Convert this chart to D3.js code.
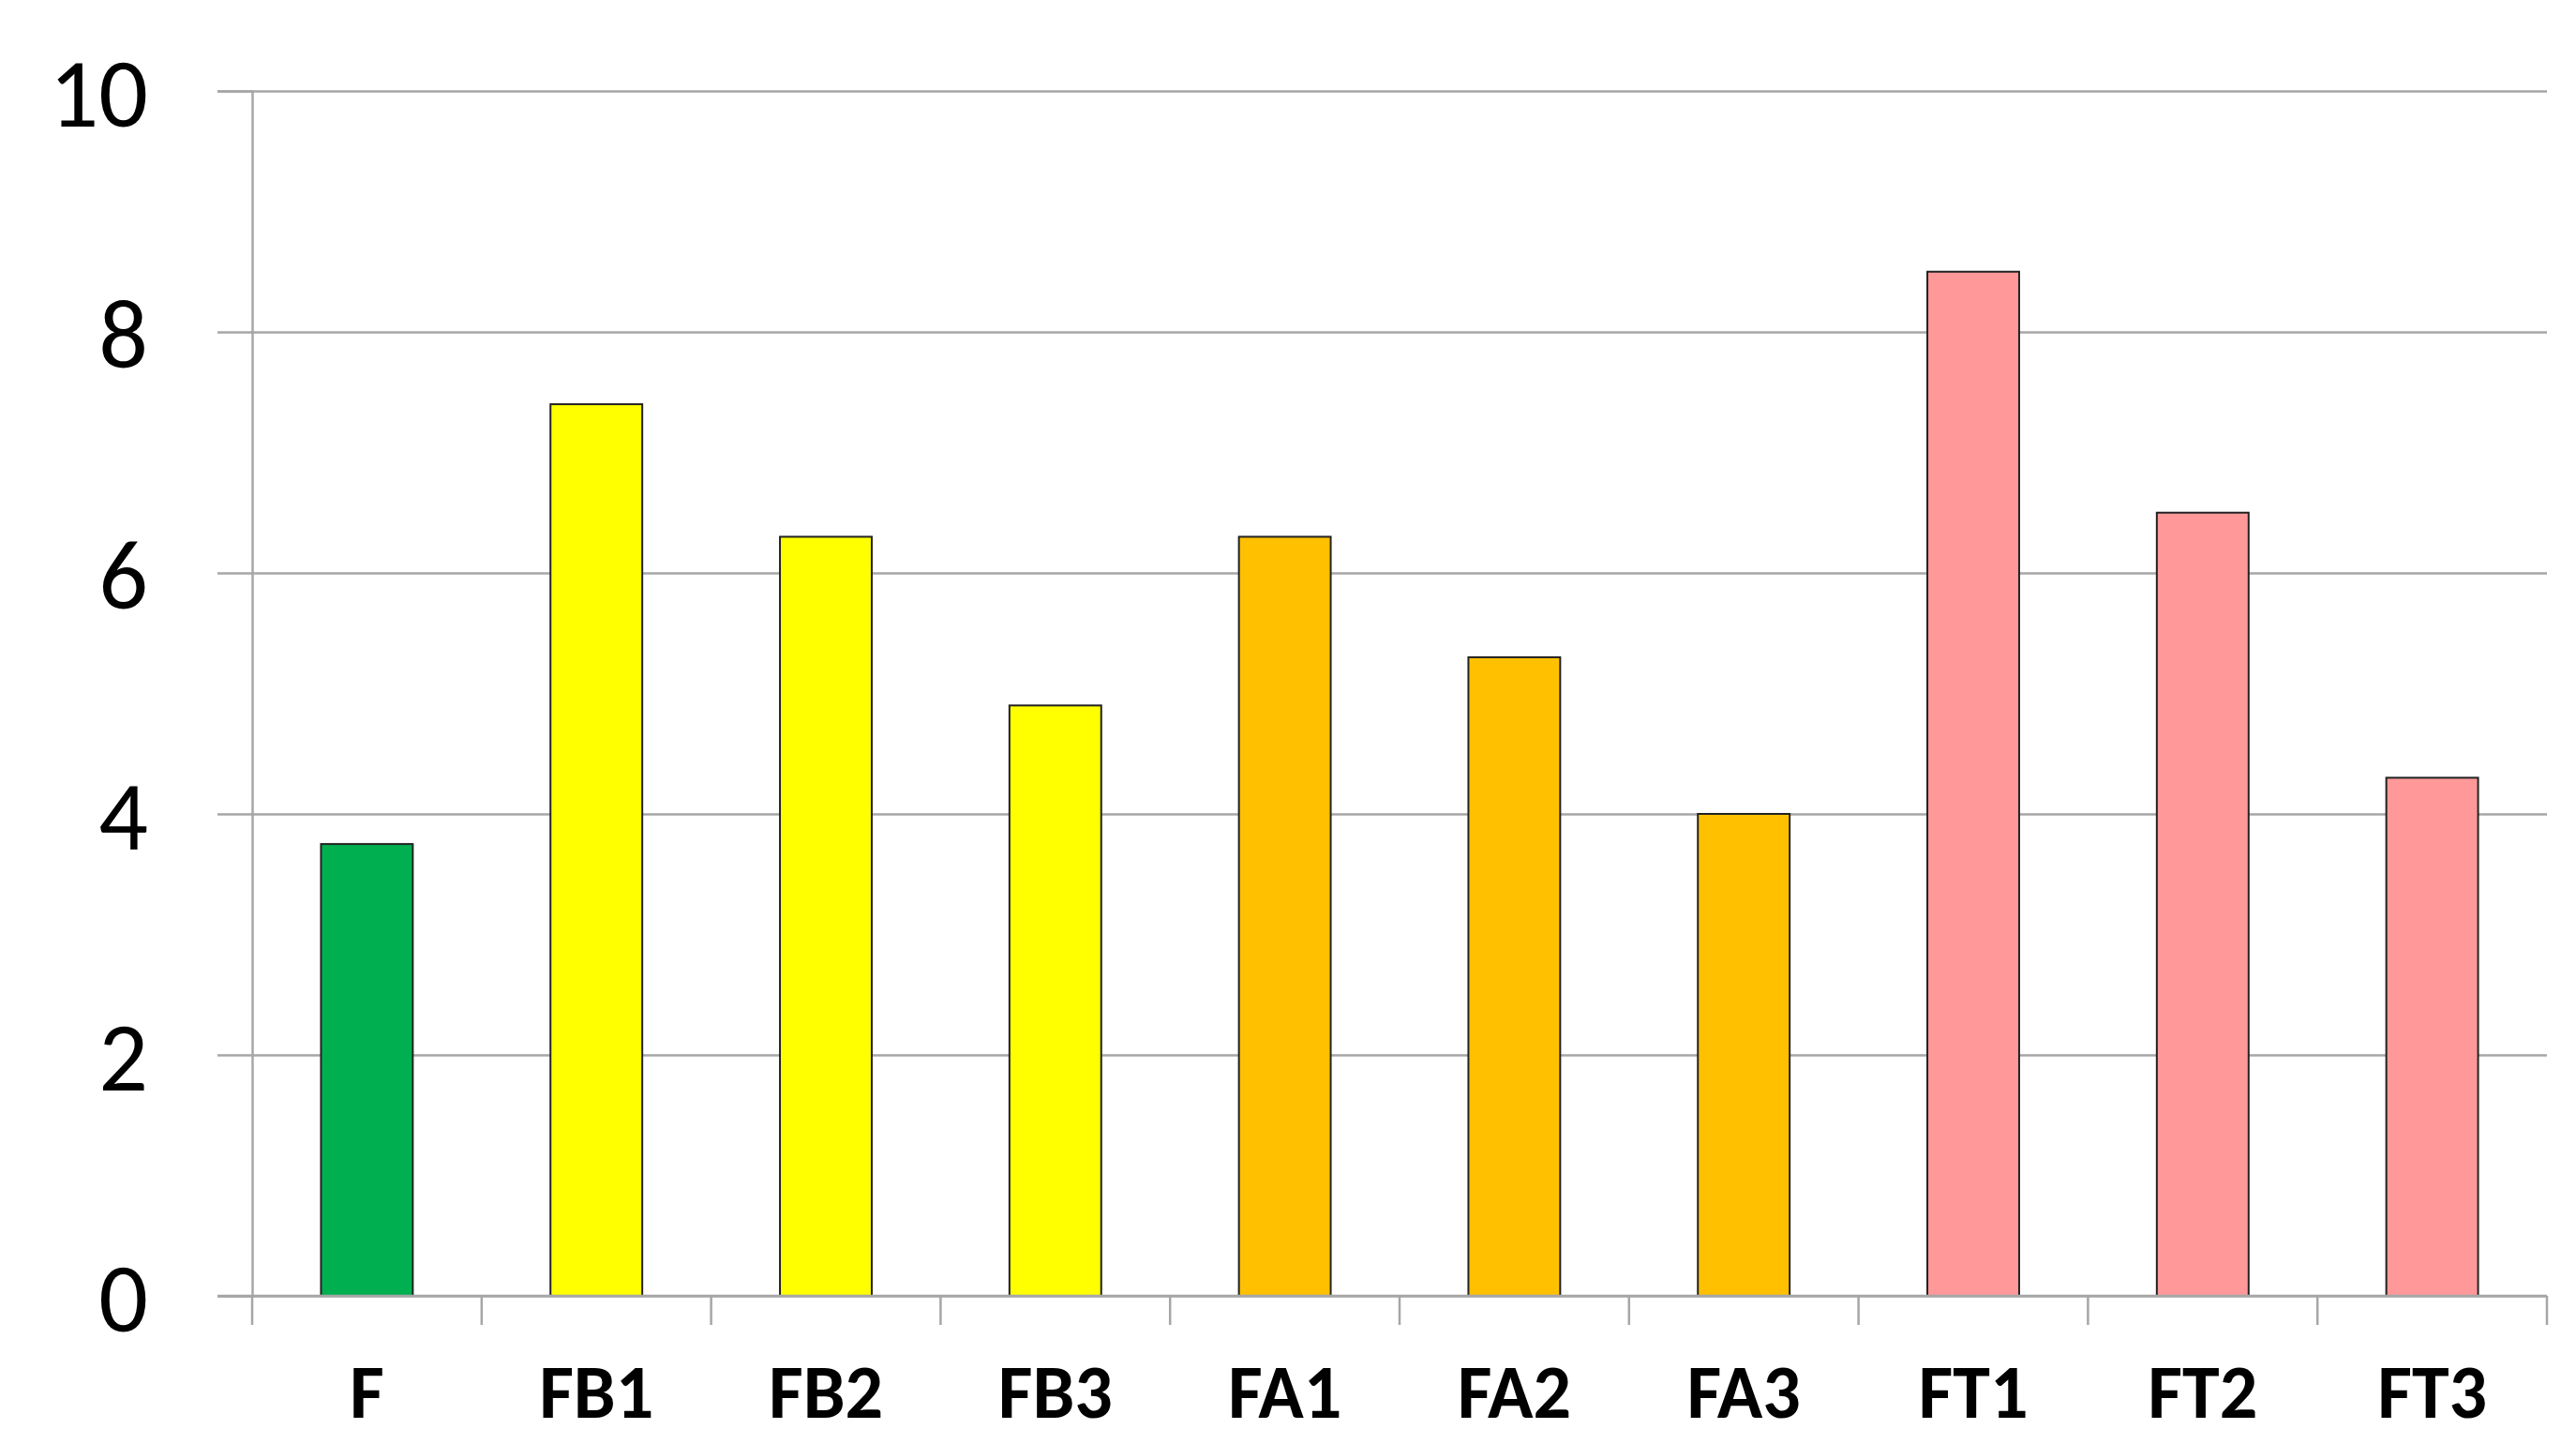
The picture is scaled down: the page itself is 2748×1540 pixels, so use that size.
<!DOCTYPE html>
<html>
<head>
<meta charset="utf-8">
<script src="https://cdn.jsdelivr.net/npm/d3@7"></script>
<style>
  html, body { margin: 0; padding: 0; background: #fff; }
  svg text { font-family: Carlito, Calibri, Lato, sans-serif; }
</style>
</head>
<body>
<div id="chart"></div>
<script>
// data
const categories = ["F", "FB1", "FB2", "FB3", "FA1", "FA2", "FA3", "FT1", "FT2", "FT3"];
const values = [3.75, 7.4, 6.3, 4.9, 6.3, 5.3, 4.0, 8.5, 6.5, 4.3];
const barColors = ["#00B050", "#FFFF00", "#FFFF00", "#FFFF00", "#FFC000", "#FFC000", "#FFC000", "#FF9999", "#FF9999", "#FF9999"];
const yTicks = [0, 2, 4, 6, 8, 10];

const width = 2748;
const height = 1540;
const margin = {top: 97, right: 31, bottom: 158, left: 269};

const data = categories.map((c, i) => ({label: c, value: values[i], color: barColors[i]}));

// x scale - bars take 40% of each slot
const x = d3.scaleBand()
  .domain(categories)
  .range([margin.left, width - margin.right])
  .paddingInner(0.6)
  .paddingOuter(0.3);

const y = d3.scaleLinear()
  .domain([0, 10])
  .range([height - margin.bottom, margin.top]);

const svg = d3.select("#chart")
  .append("svg")
  .attr("width", width)
  .attr("height", height);

// gridlines + y labels
const yAxis = g => g
  .attr("transform", `translate(${margin.left},0)`)
  .call(d3.axisLeft(y).tickValues(yTicks).tickSize(37).tickPadding(74))
  .call(g => g.select(".domain").attr("stroke", "#a6a6a6").attr("stroke-width", 2.5))
  .call(g => g.selectAll(".tick line").clone()
    .attr("x1", 0)
    .attr("x2", width - margin.left - margin.right)
    .attr("stroke", "#a6a6a6")
    .attr("stroke-width", 2.5))
  .call(g => g.selectAll(".tick line").attr("stroke", "#a6a6a6").attr("stroke-width", 2.5))
  .call(g => g.selectAll(".tick text")
    .attr("font-size", 104)
    .attr("fill", "#000")
    .attr("dy", "0.36em"));

svg.append("g").call(yAxis);

// bars
svg.append("g")
  .selectAll("rect")
  .data(data)
  .join("rect")
  .attr("x", d => x(d.label))
  .attr("y", d => y(d.value))
  .attr("width", x.bandwidth())
  .attr("height", d => y(0) - y(d.value))
  .attr("fill", d => d.color)
  .attr("stroke", "#222")
  .attr("stroke-width", 2);

// x axis line and separator ticks between categories
const step = x.step();
const bounds = d3.range(categories.length + 1).map(i => margin.left + i * step);
const xg = svg.append("g");
xg.append("line")
  .attr("x1", margin.left - 37)
  .attr("x2", width - margin.right)
  .attr("y1", y(0))
  .attr("y2", y(0))
  .attr("stroke", "#a6a6a6")
  .attr("stroke-width", 2.5);
xg.selectAll("line.sep")
  .data(bounds)
  .join("line")
  .attr("class", "sep")
  .attr("x1", d => d)
  .attr("x2", d => d)
  .attr("y1", y(0))
  .attr("y2", y(0) + 31)
  .attr("stroke", "#a6a6a6")
  .attr("stroke-width", 2.5);

// category labels
xg.selectAll("text")
  .data(categories)
  .join("text")
  .attr("x", d => x(d) + x.bandwidth() / 2)
  .attr("y", 1512)
  .attr("text-anchor", "middle")
  .attr("font-size", 80)
  .attr("font-weight", "bold")
  .attr("fill", "#000")
  .text(d => d);
</script>
</body>
</html>
